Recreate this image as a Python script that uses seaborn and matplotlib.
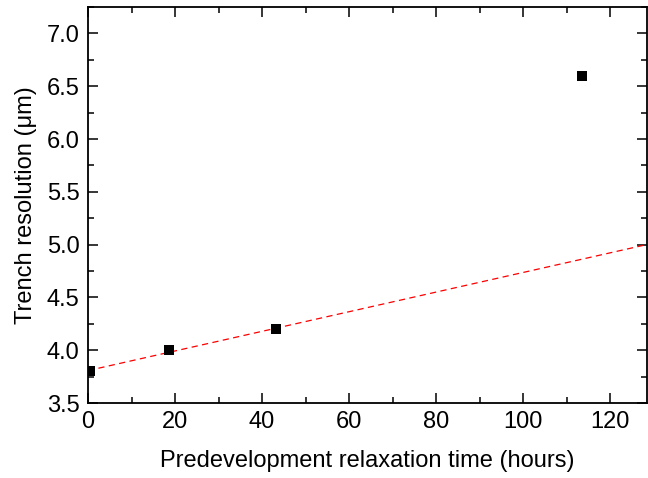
import matplotlib
matplotlib.use("Agg")
import matplotlib.pyplot as plt
import seaborn as sns
import pandas as pd
from matplotlib.ticker import MultipleLocator

# Data
relax_time = [0.5, 18.6, 43.2, 113.4]
resolution = [3.80, 4.00, 4.20, 6.60]
fit_points = 3  # linear fit uses the first three points

x_label = "Predevelopment relaxation time (hours)"
y_label = "Trench resolution (\u03bcm)"

sns.set_theme(style="ticks")
plt.rcParams["font.family"] = ["Liberation Sans", "DejaVu Sans"]

df = pd.DataFrame({"t": relax_time, "r": resolution})

fig = plt.figure(figsize=(6.48, 4.78), dpi=100)
ax = fig.add_axes([88 / 648, 1 - 403 / 478, 1 - 88 / 648 - 0.001, (403 - 7) / 478])
ax.set_xlim(0, 128.5)
ax.set_ylim(3.5, 7.25)

sns.regplot(data=df.iloc[:fit_points], x="t", y="r", ax=ax, ci=None, scatter=False,
            truncate=False,
            line_kws=dict(color="red", lw=0.9, ls=(0, (5, 3.5))))
sns.scatterplot(data=df, x="t", y="r", ax=ax, marker="s", s=60, color="black",
                edgecolor="black", linewidth=0, zorder=3)

ax.set_xlim(0, 128.5)
ax.set_ylim(3.5, 7.25)
ax.xaxis.set_major_locator(MultipleLocator(20))
ax.xaxis.set_minor_locator(MultipleLocator(10))
ax.yaxis.set_major_locator(MultipleLocator(0.5))
ax.yaxis.set_minor_locator(MultipleLocator(0.25))
ax.yaxis.set_major_formatter(matplotlib.ticker.FormatStrFormatter("%.1f"))
ax.tick_params(which="both", direction="in", top=True, right=True, width=1.1,
               color="black", labelsize=17, labelcolor="black", pad=6)
ax.tick_params(which="major", length=7)
ax.tick_params(which="minor", length=4)
for s in ax.spines.values():
    s.set_linewidth(1.3)
    s.set_color("black")
    s.set_visible(True)

ax.set_xlabel(x_label, fontsize=17, labelpad=12, color="black")
ax.set_ylabel(y_label, fontsize=17, labelpad=7, color="black")

fig.savefig("out.png", dpi=100)
